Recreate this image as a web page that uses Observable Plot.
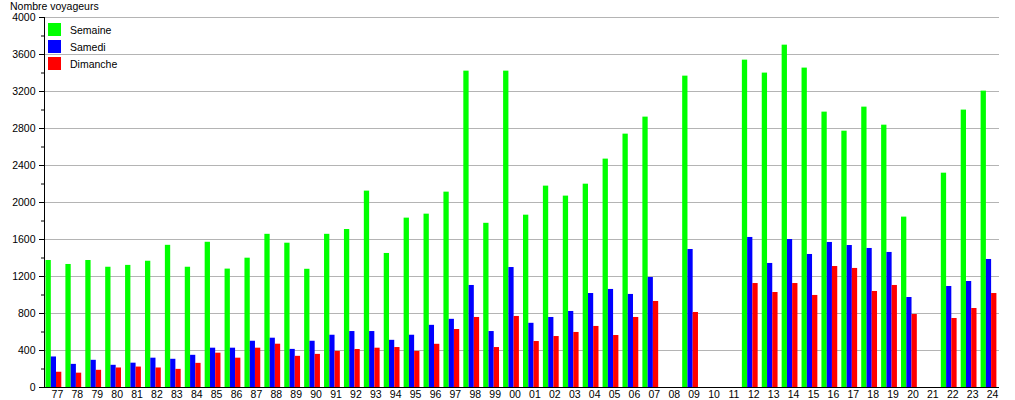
<!DOCTYPE html>
<html><head><meta charset="utf-8">
<script src="https://cdn.jsdelivr.net/npm/d3@7"></script>
<script src="https://cdn.jsdelivr.net/npm/@observablehq/plot@0.6"></script>
<style>
body{margin:0;background:#fff;font-family:"Liberation Sans",Arial,sans-serif;}
#wrap{position:relative;width:1015px;height:400px;}
.title{position:absolute;left:10px;top:0px;font-size:10.5px;line-height:12px;color:#000;}
.legend{position:absolute;left:48px;top:21px;font-size:10.5px;color:#000;}
.legend .row{display:flex;align-items:center;height:17px;}
.legend .sw{width:13px;height:13px;margin-right:9px;}
</style></head><body><div id="wrap"></div>
<script>
const years = ["77","78","79","80","81","82","83","84","85","86","87","88","89","90","91","92","93","94","95","96","97","98","99",
  "00","01","02","03","04","05","06","07","08","09","10","11","12","13","14","15","16","17","18","19","20","21","22","23","24"];
const semaine = [1373,1330,1373,1300,1320,1365,1537,1300,1570,1280,1398,1656,1560,1278,1656,1708,2123,1449,1831,1874,2112,3420,1775,
  3420,1863,2177,2069,2198,2469,2739,2923,null,3366,null,null,3539,3399,3701,3453,2977,2771,3031,2836,1842,null,2317,2999,3204];
const samedi = [330,250,294,240,263,317,305,348,425,425,500,533,412,500,565,605,605,510,565,672,737,1103,605,
  1297,694,757,822,1016,1060,1006,1189,null,1492,null,null,1622,1341,1600,1438,1568,1535,1503,1460,973,null,1092,1146,1384];
const dimanche = [165,155,186,211,221,211,196,261,371,317,425,468,337,358,390,411,425,432,390,467,627,757,432,
  768,497,551,595,660,562,757,930,null,811,null,null,1124,1027,1124,995,1308,1287,1038,1103,789,null,746,854,1016];
const seriesNames = ["Semaine","Samedi","Dimanche"];
const seriesColors = ["#00ff00","#0000ff","#ff0000"];
const yTicks = d3.range(0, 4001, 400);
const yMinor = d3.range(200, 4000, 400);

const table = years.map((y, i) => ({year: y, semaine: semaine[i], samedi: samedi[i], dimanche: dimanche[i]}));
const left = 44, right = 999;
const bw = (right - left) / years.length;
const edges = [1.5, 6.8, 12, 17.3];

const chart = Plot.plot({
  width: 1015, height: 400,
  marginLeft: left, marginRight: 1015 - right, marginTop: 17, marginBottom: 13,
  style: {fontFamily: "'Liberation Sans', Arial, sans-serif", fontSize: "10.5px", background: "#fff", color: "#000", overflow: "visible"},
  x: {type: "band", domain: years, padding: 0, axis: null},
  y: {domain: [0, 4000], axis: null},
  marks: [
    Plot.gridY(yTicks.filter(d => d > 0), {stroke: "#b4b4b4", strokeOpacity: 1}),
    ...["semaine","samedi","dimanche"].map((k, j) =>
      Plot.barY(table.filter(d => d[k] != null), {
        x: "year", y: k, fill: seriesColors[j],
        insetLeft: edges[j], insetRight: bw - edges[j + 1]
      })),
    Plot.axisY(yTicks, {tickSize: 5, tickPadding: 4, label: null, stroke: "#000", tickFormat: d => String(d)}),
    Plot.axisY(yMinor, {tickSize: 3, text: null, label: null, stroke: "#000"}),
    Plot.frame({anchor: "left", stroke: "#000"}),
    Plot.ruleY([0], {stroke: "#000"}),
    Plot.axisX({tickSize: 0, tickPadding: 3, dx: 3, label: null})
  ]
});

const wrap = document.getElementById("wrap");
wrap.appendChild(chart);
const title = document.createElement("div");
title.className = "title";
title.textContent = "Nombre voyageurs";
wrap.appendChild(title);
const legend = document.createElement("div");
legend.className = "legend";
seriesNames.forEach((n, i) => {
  const row = document.createElement("div");
  row.className = "row";
  const sw = document.createElement("div");
  sw.className = "sw";
  sw.style.background = seriesColors[i];
  const t = document.createElement("span");
  t.textContent = n;
  row.appendChild(sw); row.appendChild(t);
  legend.appendChild(row);
});
wrap.appendChild(legend);
</script></body></html>
